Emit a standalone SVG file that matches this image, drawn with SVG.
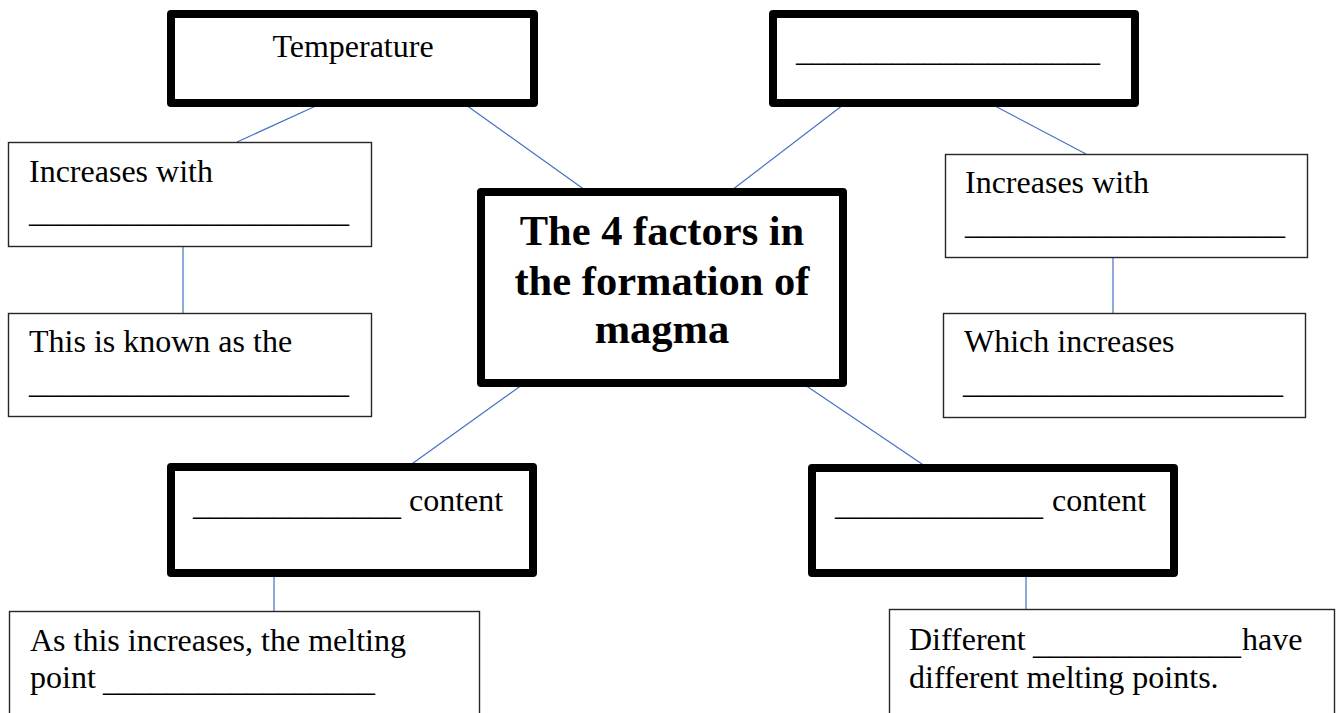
<svg xmlns="http://www.w3.org/2000/svg" width="1336" height="713" viewBox="0 0 1336 713">
<style>
.thick{fill:#fff;stroke:#000;stroke-width:8;stroke-linejoin:round}
.thin{fill:#fff;stroke:#262626;stroke-width:1.4}
.t{font-family:"Liberation Serif","Times New Roman",serif;font-size:32px;fill:#000}
.title{font-family:"Liberation Serif","Times New Roman",serif;font-size:42.5px;font-weight:bold;fill:#000;text-anchor:middle}
#connectors line{stroke:#4472C4;stroke-width:1.2}
</style>
<rect width="1336" height="713" fill="#fff"/>
<g id="connectors">
<line x1="318" y1="105" x2="237" y2="142"/>
<line x1="466" y1="105" x2="585" y2="190"/>
<line x1="843" y1="105" x2="732" y2="190"/>
<line x1="993" y1="105" x2="1086" y2="154"/>
<line x1="522" y1="385" x2="409" y2="466"/>
<line x1="805" y1="385" x2="925" y2="466"/>
<line x1="183" y1="247" x2="183" y2="313"/>
<line x1="1113" y1="258" x2="1113" y2="313"/>
<line x1="274" y1="575" x2="274" y2="611"/>
<line x1="1026" y1="575" x2="1026" y2="609"/>
</g>
<g id="temperature">
<rect class="thick" x="171" y="14" width="363" height="89"/>
<text class="t" x="353" y="57" text-anchor="middle">Temperature</text>
</g>
<g id="blank-factor">
<rect class="thick" x="773" y="14" width="362" height="89"/>
<text class="t" x="796" y="61" textLength="304">___________________</text>
</g>
<g id="center">
<rect class="thick" x="481" y="192" width="362" height="191"/>
<text class="title" x="662" y="245">The 4 factors in</text>
<text class="title" x="662" y="295">the formation of</text>
<text class="title" x="662" y="343">magma</text>
</g>
<g id="left-increases">
<rect class="thin" x="8.5" y="142.5" width="363" height="104"/>
<text class="t" x="29" y="182">Increases with</text>
<text class="t" x="29" y="222" textLength="320">____________________</text>
</g>
<g id="left-known">
<rect class="thin" x="8.5" y="313.5" width="363" height="103"/>
<text class="t" x="29" y="352">This is known as the</text>
<text class="t" x="29" y="393" textLength="320">____________________</text>
</g>
<g id="right-increases">
<rect class="thin" x="945.5" y="154.5" width="362" height="103"/>
<text class="t" x="965" y="193">Increases with</text>
<text class="t" x="965" y="234" textLength="320">____________________</text>
</g>
<g id="right-which">
<rect class="thin" x="943.5" y="313.5" width="362" height="104"/>
<text class="t" x="964" y="352">Which increases</text>
<text class="t" x="963" y="393" textLength="320">____________________</text>
</g>
<g id="content-left">
<rect class="thick" x="171" y="467" width="362" height="106"/>
<text class="t"><tspan x="193" y="515">_____________</tspan><tspan x="409" y="511">content</tspan></text>
</g>
<g id="content-right">
<rect class="thick" x="812" y="468" width="362" height="105"/>
<text class="t"><tspan x="835" y="515">_____________</tspan><tspan x="1052" y="511">content</tspan></text>
</g>
<g id="melting-point">
<rect class="thin" x="9.5" y="611.5" width="470" height="140"/>
<text class="t" x="30" y="651">As this increases, the melting</text>
<text class="t"><tspan x="30" y="688">point</tspan><tspan x="103" y="691">_________________</tspan></text>
</g>
<g id="different">
<rect class="thin" x="889.5" y="609.5" width="445" height="140"/>
<text class="t"><tspan x="909" y="650">Different</tspan><tspan x="1033" y="654">_____________</tspan><tspan x="1242" y="650">have</tspan></text>
<text class="t" x="909" y="688">different melting points.</text>
</g>
</svg>
